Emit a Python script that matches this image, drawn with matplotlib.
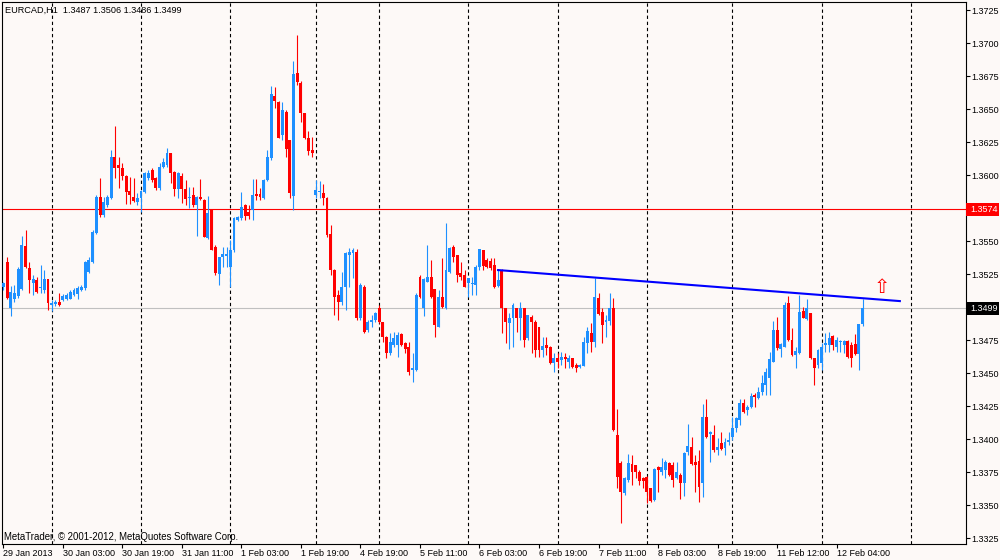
import matplotlib.pyplot as plt
from matplotlib.patches import Rectangle
import numpy as np

# EURCAD H1, 29 Jan 2013 11:00 -> 12 Feb 2013 11:00
opens = [
    1.35154, 1.35340, 1.34990, 1.35058, 1.35085, 1.35134, 1.35462, 1.35293, 1.35179, 1.35204,
    1.35141, 1.35129, 1.35209, 1.35015, 1.35023, 1.35040, 1.35053, 1.35058, 1.35063, 1.35091,
    1.35100, 1.35129, 1.35141, 1.35268, 1.35343, 1.35558, 1.35836, 1.35697, 1.35772, 1.35823,
    1.36139, 1.36075, 1.36050, 1.35995, 1.35879, 1.35836, 1.35793, 1.35823, 1.35874, 1.35975,
    1.36038, 1.35975, 1.35899, 1.36058, 1.36076, 1.36169, 1.36025, 1.35891, 1.35992, 1.35891,
    1.35826, 1.35849, 1.35773, 1.35831, 1.35811, 1.35520, 1.35735, 1.35457, 1.35250, 1.35376,
    1.35389, 1.35306, 1.35432, 1.35659, 1.35672, 1.35773, 1.35720, 1.35735, 1.35856, 1.35856,
    1.35823, 1.35962, 1.36126, 1.36601, 1.36551, 1.36303, 1.36480, 1.36265, 1.35843, 1.36770,
    1.36700, 1.36467, 1.36278, 1.36189, 1.35848, 1.35870, 1.35861, 1.35823, 1.35555, 1.35281,
    1.35091, 1.35035, 1.35154, 1.35394, 1.35407, 1.35419, 1.34914, 1.35154, 1.34826, 1.34889,
    1.34902, 1.34990, 1.34889, 1.34775, 1.34649, 1.34712, 1.34712, 1.34795, 1.34725, 1.34700,
    1.34523, 1.34523, 1.35230, 1.34990, 1.35192, 1.35225, 1.35134, 1.34851, 1.35079, 1.34990,
    1.35268, 1.35457, 1.35394, 1.35255, 1.35243, 1.35180, 1.35175, 1.35167, 1.35300, 1.35430,
    1.35356, 1.35350, 1.35318, 1.35160, 1.35280, 1.34990, 1.34880, 1.34914, 1.34990, 1.34914,
    1.34990, 1.34762, 1.34927, 1.34889, 1.34845, 1.34674, 1.34712, 1.34699, 1.34578, 1.34611,
    1.34598, 1.34620, 1.34586, 1.34611, 1.34561, 1.34548, 1.34556, 1.34725, 1.34800, 1.34737,
    1.35066, 1.34965, 1.34889, 1.34897, 1.34990, 1.34030, 1.33816, 1.33588, 1.33689, 1.33810,
    1.33800, 1.33753, 1.33702, 1.33715, 1.33626, 1.33538, 1.33790, 1.33753, 1.33765, 1.33816,
    1.33800, 1.33702, 1.33727, 1.33664, 1.33904, 1.33937, 1.33828, 1.33830, 1.33664, 1.34169,
    1.34035, 1.34030, 1.33917, 1.33967, 1.33929, 1.33980, 1.34018, 1.34081, 1.34144, 1.34270,
    1.34220, 1.34245, 1.34333, 1.34308, 1.34358, 1.34409, 1.34460, 1.34586, 1.34826, 1.34680,
    1.34699, 1.35028, 1.34750, 1.34640, 1.34649, 1.34970, 1.34910, 1.34952, 1.34611, 1.34561,
    1.34573, 1.34712, 1.34712, 1.34783, 1.34699, 1.34737, 1.34712, 1.34745, 1.34712, 1.34717,
    1.34641, 1.34870,
]
highs = [
    1.35190, 1.35376, 1.35159, 1.35167, 1.35300, 1.35538, 1.35583, 1.35343, 1.35242, 1.35230,
    1.35318, 1.35280, 1.35209, 1.35053, 1.35050, 1.35103, 1.35100, 1.35103, 1.35130, 1.35141,
    1.35160, 1.35167, 1.35350, 1.35376, 1.35580, 1.35850, 1.35980, 1.35836, 1.35850, 1.36189,
    1.36373, 1.36139, 1.36088, 1.36000, 1.35987, 1.35975, 1.35861, 1.35886, 1.36025, 1.36038,
    1.36050, 1.35987, 1.36088, 1.36126, 1.36202, 1.36169, 1.36030, 1.36025, 1.36018, 1.35962,
    1.35912, 1.35912, 1.35841, 1.35967, 1.35816, 1.35841, 1.35740, 1.35470, 1.35381, 1.35457,
    1.35457, 1.35508, 1.35680, 1.35690, 1.35874, 1.35780, 1.35770, 1.35967, 1.35967, 1.35899,
    1.35970, 1.36189, 1.36674, 1.36669, 1.36560, 1.36551, 1.36490, 1.36265, 1.36864, 1.37061,
    1.36710, 1.36470, 1.36333, 1.36290, 1.35962, 1.35955, 1.35929, 1.35830, 1.35621, 1.35290,
    1.35129, 1.35268, 1.35419, 1.35445, 1.35445, 1.35437, 1.35180, 1.35167, 1.34902, 1.34939,
    1.34965, 1.35015, 1.34889, 1.34780, 1.34801, 1.34813, 1.34813, 1.34800, 1.34737, 1.34737,
    1.34649, 1.35104, 1.35243, 1.35217, 1.35470, 1.35356, 1.35134, 1.35129, 1.35369, 1.35639,
    1.35457, 1.35470, 1.35394, 1.35343, 1.35281, 1.35220, 1.35225, 1.35318, 1.35437, 1.35432,
    1.35369, 1.35369, 1.35369, 1.35290, 1.35285, 1.34995, 1.34957, 1.35028, 1.34995, 1.35040,
    1.34995, 1.34940, 1.34939, 1.34901, 1.34851, 1.34775, 1.34775, 1.34705, 1.34649, 1.34649,
    1.34662, 1.34649, 1.34636, 1.34615, 1.34573, 1.34568, 1.34775, 1.34851, 1.34876, 1.35217,
    1.35104, 1.34990, 1.34939, 1.35104, 1.35066, 1.34230, 1.33830, 1.33715, 1.33884, 1.33879,
    1.33805, 1.33765, 1.33710, 1.33720, 1.33630, 1.33780, 1.33795, 1.33854, 1.33841, 1.33828,
    1.33826, 1.33828, 1.33740, 1.33905, 1.34113, 1.34012, 1.33879, 1.33917, 1.34263, 1.34303,
    1.34060, 1.34106, 1.34005, 1.34050, 1.34005, 1.34050, 1.34169, 1.34170, 1.34303, 1.34303,
    1.34258, 1.34346, 1.34346, 1.34397, 1.34485, 1.34535, 1.34661, 1.34894, 1.34927, 1.34730,
    1.35040, 1.35085, 1.34843, 1.34699, 1.35094, 1.35003, 1.35060, 1.34955, 1.34615, 1.34680,
    1.34725, 1.34801, 1.34808, 1.34790, 1.34775, 1.34750, 1.34750, 1.34750, 1.34737, 1.34793,
    1.34872, 1.35060,
]
lows = [
    1.35130, 1.35058, 1.34932, 1.35040, 1.35066, 1.35129, 1.35293, 1.35103, 1.35091, 1.35109,
    1.35109, 1.35109, 1.34977, 1.34972, 1.35010, 1.35010, 1.35045, 1.35050, 1.35058, 1.35080,
    1.35058, 1.35120, 1.35130, 1.35260, 1.35330, 1.35550, 1.35684, 1.35684, 1.35760, 1.35820,
    1.35975, 1.35899, 1.35962, 1.35778, 1.35778, 1.35793, 1.35772, 1.35722, 1.35861, 1.35962,
    1.35950, 1.35886, 1.35890, 1.36050, 1.36063, 1.35937, 1.35841, 1.35823, 1.35785, 1.35773,
    1.35747, 1.35760, 1.35538, 1.35811, 1.35530, 1.35515, 1.35430, 1.35242, 1.35170, 1.35306,
    1.35306, 1.35154, 1.35420, 1.35650, 1.35659, 1.35659, 1.35670, 1.35659, 1.35811, 1.35811,
    1.35815, 1.35955, 1.36114, 1.36510, 1.36278, 1.36265, 1.36139, 1.35823, 1.35735, 1.36682,
    1.36404, 1.36270, 1.36152, 1.36139, 1.35823, 1.35823, 1.35773, 1.35533, 1.35243, 1.34939,
    1.34902, 1.35015, 1.34977, 1.35154, 1.35217, 1.34902, 1.34902, 1.34800, 1.34813, 1.34851,
    1.34889, 1.34876, 1.34737, 1.34611, 1.34640, 1.34700, 1.34624, 1.34705, 1.34649, 1.34485,
    1.34434, 1.34515, 1.35066, 1.34930, 1.35190, 1.35070, 1.34775, 1.34845, 1.34990, 1.34985,
    1.35255, 1.35343, 1.35192, 1.35205, 1.35150, 1.35079, 1.35091, 1.35091, 1.35281, 1.35281,
    1.35293, 1.35281, 1.35142, 1.35150, 1.34800, 1.34725, 1.34680, 1.34699, 1.34813, 1.34750,
    1.34699, 1.34750, 1.34649, 1.34624, 1.34624, 1.34624, 1.34636, 1.34565, 1.34510, 1.34535,
    1.34561, 1.34535, 1.34535, 1.34535, 1.34510, 1.34535, 1.34550, 1.34649, 1.34662, 1.34699,
    1.34939, 1.34725, 1.34775, 1.34864, 1.34060, 1.33626, 1.33361, 1.33576, 1.33677, 1.33652,
    1.33702, 1.33652, 1.33626, 1.33513, 1.33520, 1.33530, 1.33601, 1.33727, 1.33702, 1.33720,
    1.33639, 1.33700, 1.33545, 1.33570, 1.33879, 1.33803, 1.33601, 1.33525, 1.33563, 1.34010,
    1.33828, 1.33904, 1.33879, 1.33917, 1.33879, 1.33955, 1.33992, 1.34056, 1.34106, 1.34200,
    1.34182, 1.34232, 1.34245, 1.34300, 1.34333, 1.34333, 1.34333, 1.34580, 1.34674, 1.34624,
    1.34695, 1.34745, 1.34630, 1.34535, 1.34645, 1.34914, 1.34902, 1.34606, 1.34409, 1.34535,
    1.34523, 1.34661, 1.34661, 1.34674, 1.34661, 1.34661, 1.34649, 1.34611, 1.34548, 1.34636,
    1.34523, 1.34860,
]
closes = [
    1.35179, 1.35070, 1.35116, 1.35109, 1.35290, 1.35470, 1.35300, 1.35204, 1.35209, 1.35116,
    1.35149, 1.35209, 1.35028, 1.35033, 1.35040, 1.35015, 1.35085, 1.35091, 1.35111, 1.35129,
    1.35141, 1.35149, 1.35343, 1.35356, 1.35571, 1.35836, 1.35697, 1.35793, 1.35836, 1.36139,
    1.36050, 1.36050, 1.35995, 1.35874, 1.35849, 1.35803, 1.35823, 1.35879, 1.36013, 1.36013,
    1.35962, 1.35899, 1.36063, 1.36101, 1.36169, 1.36013, 1.35894, 1.36018, 1.35891, 1.35816,
    1.35831, 1.35773, 1.35831, 1.35816, 1.35533, 1.35715, 1.35432, 1.35255, 1.35381, 1.35402,
    1.35402, 1.35432, 1.35672, 1.35679, 1.35760, 1.35689, 1.35690, 1.35849, 1.35841, 1.35831,
    1.35962, 1.36139, 1.36611, 1.36561, 1.36283, 1.36493, 1.36200, 1.35861, 1.36763, 1.36707,
    1.36467, 1.36278, 1.36182, 1.36164, 1.35886, 1.35878, 1.35823, 1.35545, 1.35281, 1.35079,
    1.35035, 1.35154, 1.35407, 1.35419, 1.35432, 1.34914, 1.35167, 1.34813, 1.34889, 1.34902,
    1.34952, 1.34889, 1.34775, 1.34649, 1.34737, 1.34763, 1.34788, 1.34712, 1.34680, 1.34510,
    1.34535, 1.35091, 1.35079, 1.35210, 1.35230, 1.35079, 1.34864, 1.35079, 1.35003, 1.35281,
    1.35445, 1.35381, 1.35243, 1.35225, 1.35154, 1.35217, 1.35185, 1.35306, 1.35437, 1.35312,
    1.35306, 1.35293, 1.35154, 1.35205, 1.34990, 1.34889, 1.34914, 1.35015, 1.34914, 1.34990,
    1.34750, 1.34939, 1.34889, 1.34674, 1.34674, 1.34705, 1.34687, 1.34573, 1.34611, 1.34586,
    1.34624, 1.34605, 1.34611, 1.34543, 1.34535, 1.34561, 1.34737, 1.34820, 1.34737, 1.35073,
    1.34947, 1.34864, 1.34901, 1.34990, 1.34068, 1.33715, 1.33601, 1.33702, 1.33816, 1.33753,
    1.33753, 1.33680, 1.33684, 1.33601, 1.33530, 1.33772, 1.33765, 1.33790, 1.33826, 1.33727,
    1.33689, 1.33753, 1.33664, 1.33898, 1.33950, 1.33810, 1.33803, 1.33640, 1.34169, 1.34018,
    1.34056, 1.33917, 1.33942, 1.33924, 1.33980, 1.33992, 1.34086, 1.34160, 1.34270, 1.34207,
    1.34245, 1.34328, 1.34321, 1.34359, 1.34422, 1.34510, 1.34606, 1.34826, 1.34690, 1.34717,
    1.35015, 1.34750, 1.34636, 1.34667, 1.34965, 1.34920, 1.34990, 1.34616, 1.34535, 1.34674,
    1.34699, 1.34730, 1.34768, 1.34712, 1.34750, 1.34745, 1.34745, 1.34624, 1.34611, 1.34641,
    1.34869, 1.34990,
]

date_labels = ['29 Jan 2013', '30 Jan 03:00', '30 Jan 19:00', '31 Jan 11:00', '1 Feb 03:00',
               '1 Feb 19:00', '4 Feb 19:00', '5 Feb 11:00', '6 Feb 03:00', '6 Feb 19:00',
               '7 Feb 11:00', '8 Feb 03:00', '8 Feb 19:00', '11 Feb 12:00', '12 Feb 04:00']
day_starts = [13, 37, 61, 84, 101, 125, 149, 173, 196, 220, 244]
price_levels = [1.3725, 1.3700, 1.3675, 1.3650, 1.3625, 1.3600, 1.3550, 1.3525,
                1.3475, 1.3450, 1.3425, 1.3400, 1.3375, 1.3350, 1.3325]
red_level = 1.3574
bid = 1.3499
trend_bars = [133, 241]
trend_prices = [1.35280, 1.35045]
arrow_bar, arrow_price = 236.2, 1.35150
title = 'EURCAD,H1  1.3487 1.3506 1.3486 1.3499'

bg = '#fdf9f7'
bull = '#1e90ff'
bear = '#ff0000'

plt.rcParams['font.family'] = ['Liberation Sans', 'DejaVu Sans']

fig = plt.figure(figsize=(10, 5.6), dpi=100, facecolor=bg)
ax = fig.add_axes([0.002, 0.0286, 0.9637, 0.9686], facecolor=bg)

o = np.array(opens)
h = np.array(highs)
l = np.array(lows)
c = np.array(closes)
x = np.arange(len(o))
colors = np.where(c >= o, bull, bear)

# period separators and horizontal levels
for d in day_starts:
    ax.axvline(d, color='black', lw=0.8, linestyle=(0, (3, 2.5)), zorder=1)
ax.axhline(red_level, color='#ff0000', lw=0.8, zorder=1)
ax.axhline(bid, color='#c0c0c0', lw=0.8, zorder=1)

# candles
ax.vlines(x, l, h, colors=colors, lw=0.8, zorder=3)
ax.bar(x, np.maximum(np.abs(c - o), 0.00005), bottom=np.minimum(o, c), width=0.78,
       color=colors, lw=0, zorder=4)

# trend line and arrow
ax.plot(trend_bars, trend_prices, color='#0000ff', lw=1.5, zorder=5)
ax.text(arrow_bar, arrow_price, '\u21e7', color='#ff0000', fontsize=14, ha='center',
        va='center', family='DejaVu Sans', zorder=6)

ax.set_xlim(-0.36, 258.7)
ax.set_ylim(1.33205, 1.37314)

ax.yaxis.tick_right()
ax.set_yticks(price_levels)
ax.set_yticklabels(['%.4f' % p for p in price_levels])
ax.set_xticks(range(0, 16 * len(date_labels), 16))
ax.set_xticklabels(date_labels, ha='left')
ax.tick_params(direction='out', length=3, width=0.8, labelsize=6.5, pad=1, colors='black')
ax.tick_params(axis='x', pad=0.5)
for s in ax.spines.values():
    s.set_linewidth(0.8)

# price label boxes on the scale
ytr = ax.get_yaxis_transform()
for level, fc in [(red_level, '#ff0000'), (bid, 'black')]:
    ax.add_patch(Rectangle((1.0, level - 0.00047), 0.0345, 0.00094, transform=ytr,
                           facecolor=fc, edgecolor='none', clip_on=False, zorder=6))
    ax.text(1.005, level, '%.4f' % level, transform=ytr, color='white', fontsize=6.5,
            va='center', ha='left', clip_on=False, zorder=7)

fig.text(0.005, 1 - 10 / 560, title, fontsize=6.6, va='center', ha='left')
fig.text(0.004, 1 - 537 / 560, 'MetaTrader, \u00a9 2001-2012, MetaQuotes Software Corp.',
         fontsize=6.9, va='center', ha='left')

fig.savefig('out.png', dpi=100, facecolor=bg)
